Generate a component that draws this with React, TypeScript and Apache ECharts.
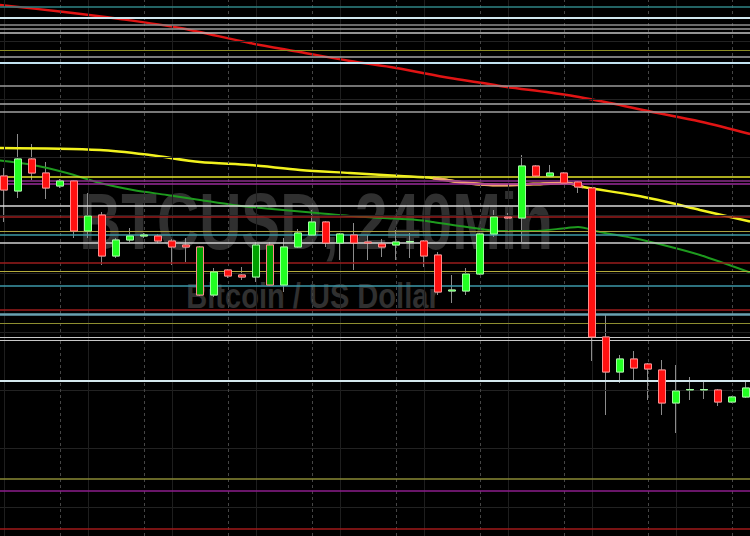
import React, { useEffect, useRef } from "react";
import * as echarts from "echarts";

// 4-hour bars
const categories = [
  "03-06 08:00", "03-06 12:00", "03-06 16:00", "03-06 20:00", "03-07 00:00", "03-07 04:00",
  "03-07 08:00", "03-07 12:00", "03-07 16:00", "03-07 20:00", "03-08 00:00", "03-08 04:00",
  "03-08 08:00", "03-08 12:00", "03-08 16:00", "03-08 20:00", "03-09 00:00", "03-09 04:00",
  "03-09 08:00", "03-09 12:00", "03-09 16:00", "03-09 20:00", "03-10 00:00", "03-10 04:00",
  "03-10 08:00", "03-10 12:00", "03-10 16:00", "03-10 20:00", "03-11 00:00", "03-11 04:00",
  "03-11 08:00", "03-11 12:00", "03-11 16:00", "03-11 20:00", "03-12 00:00", "03-12 04:00",
  "03-12 08:00", "03-12 12:00", "03-12 16:00", "03-12 20:00", "03-13 00:00", "03-13 04:00",
  "03-13 08:00", "03-13 12:00", "03-13 16:00", "03-13 20:00", "03-14 00:00", "03-14 04:00",
  "03-14 08:00", "03-14 12:00", "03-14 16:00", "03-14 20:00", "03-15 00:00", "03-15 04:00",
];

// [open, close, low, high]
const ohlc: number[][] = [
  [9428, 9400, 9336, 9444], [9398, 9462, 9384, 9512], [9462, 9434, 9420, 9492], [9434, 9404, 9382, 9456],
  [9408, 9418, 9404, 9422], [9418, 9318, 9304, 9420], [9318, 9348, 9304, 9394], [9350, 9268, 9250, 9356],
  [9268, 9300, 9264, 9304], [9300, 9308, 9296, 9324], [9308, 9310, 9304, 9314], [9308, 9298, 9294, 9312],
  [9298, 9286, 9250, 9302], [9290, 9286, 9256, 9304], [9286, 9190, 9188, 9288], [9190, 9236, 9186, 9244],
  [9240, 9228, 9224, 9242], [9230, 9226, 9220, 9246], [9226, 9290, 9216, 9296], [9290, 9210, 9208, 9296],
  [9210, 9286, 9196, 9304], [9286, 9314, 9284, 9322], [9310, 9336, 9308, 9360], [9336, 9294, 9286, 9338],
  [9294, 9312, 9260, 9314], [9310, 9294, 9240, 9334], [9296, 9294, 9260, 9310], [9292, 9286, 9266, 9302],
  [9290, 9296, 9260, 9320], [9296, 9297, 9264, 9314], [9298, 9268, 9246, 9300], [9270, 9196, 9190, 9276],
  [9198, 9200, 9174, 9230], [9198, 9232, 9190, 9244], [9232, 9312, 9230, 9314], [9312, 9346, 9306, 9360],
  [9346, 9344, 9342, 9354], [9344, 9448, 9296, 9470], [9448, 9428, 9426, 9450], [9428, 9434, 9426, 9450],
  [9434, 9414, 9412, 9436], [9416, 9406, 9394, 9418], [9404, 9106, 9058, 9406], [9106, 9036, 8950, 9150],
  [9036, 9062, 9014, 9070], [9062, 9044, 9020, 9078], [9052, 9042, 8980, 9054], [9040, 8974, 8950, 9060],
  [8974, 8998, 8914, 9050], [9000, 9001, 8980, 9026], [9000, 9001, 8982, 9016], [9000, 8976, 8968, 9002],
  [8976, 8986, 8974, 8988], [8986, 9004, 8984, 9016],
];

// moving averages: [bar position, price]
const maSlow = [
  [-0.29, 9770], [4, 9757], [8.29, 9742], [12.57, 9724], [17.57, 9694], [21.14, 9676], [24.71, 9658],
  [28, 9644], [31.86, 9624], [34.21, 9614], [35.43, 9608], [40.21, 9590], [43.29, 9574], [46.14, 9557],
  [49.71, 9537], [53.29, 9512],
];
const maMid = [
  [-0.29, 9484], [6.86, 9480], [10.43, 9470], [14, 9456], [17.57, 9450], [21.14, 9440], [24.71, 9434],
  [28.29, 9428], [30.64, 9424], [33.07, 9414], [35.43, 9410], [37.79, 9412], [40.21, 9414], [41.36, 9406],
  [44.93, 9390], [47.36, 9376], [49.71, 9360], [53.29, 9337],
];
const maFast = [
  [-0.29, 9459], [2.07, 9450], [4.5, 9434], [6.86, 9414], [9.21, 9400], [11.64, 9390], [14, 9380],
  [16.36, 9370], [17.57, 9366], [19.93, 9360], [22.36, 9354], [24.71, 9348], [27.07, 9344], [29.5, 9340],
  [30.64, 9336], [33.07, 9326], [35.43, 9318], [37.79, 9318], [40.21, 9324], [41, 9326], [42.57, 9316],
  [44.93, 9304], [47.36, 9288], [49.71, 9270], [53.29, 9235],
];
const maMidTintFrom = 30.6;
const maMidTintTo = 41.4;

// horizontal levels
const levelPrices = [
  9766, 9744, 9730, 9722, 9714, 9680, 9666, 9654, 9608, 9572, 9556, 9426, 9418, 9412, 9368, 9346,
  9318, 9310, 9294, 9254, 9238, 9208, 9160, 9152, 9134, 9106, 9100, 9018, 8822, 8798, 8722,
];
const gridPrices = [9698, 9582, 9466, 9350, 9234, 9116, 9000, 8884, 8766];
const priceMin = 8708;
const priceMax = 9780;

const watermarkTitle = "BTCUSD, 240Min";
const watermarkSubtitle = "Bitcoin / US Dollar";

// styles
const levelColors = [
  "#2f8486", "#cfe6ee", "#8e8e8e", "#9a9a9a", "#c4c4c4", "#8d8d24", "#a6a6a6", "#c2e2f0",
  "#9a9a9a", "#a8a8a8", "#a0a0a0", "#e6e62a", "#8a2f8a", "#9b2b9b", "#d8d8d8", "#9a1c1c",
  "#a8a040", "#3c9aa4", "#d0d0d0", "#9a1c1c", "#b4ac3c", "#3c98a8", "#9a1c1c", "#6aa2b2",
  "#8e8e30", "#c8c8c8", "#c8c8c8", "#d4e8ee", "#8a8a34", "#8c1e8c", "#a01a1a",
];
const levelWidths = [
  1.5, 2, 1.5, 1.5, 1.5, 1, 1.5, 2, 1.5, 1.5, 1.5, 1.5, 1.5, 1.5, 1.5, 1.5,
  1, 1.5, 1.5, 1.5, 1, 1.5, 1.5, 2.5, 1, 1, 1, 2, 1.5, 1.5, 1.5,
];
const darkBars = [14, 18, 19];

export default function App() {
  const ref = useRef<HTMLDivElement>(null);

  useEffect(() => {
    if (!ref.current) return;
    const chart = echarts.init(ref.current, undefined, { renderer: "svg" });

    const bodies = ohlc.map((d, i) => {
      const item: any = { value: [d[0], d[1], Math.min(d[0], d[1]), Math.max(d[0], d[1])] };
      if (darkBars.includes(i)) {
        item.itemStyle = { color: "#00a000", color0: "#b80000" };
      }
      return item;
    });

    const hLines = levelPrices.map((p, i) => ({
      yAxis: p,
      lineStyle: { color: levelColors[i], width: levelWidths[i], type: "solid" },
    }));
    const gLines = gridPrices.map((p) => ({
      yAxis: p,
      lineStyle: { color: "#222222", width: 1, type: "solid" },
    }));
    const vBright = categories
      .filter((c) => c.endsWith("00:00"))
      .map((c) => ({ xAxis: c, lineStyle: { color: "#454545", width: 1, type: [3, 3] } }));
    const vDim = categories
      .filter((c) => c.endsWith("08:00"))
      .map((c) => ({ xAxis: c, lineStyle: { color: "#1e1e1e", width: 1, type: "solid" } }));

    const tinted = maMid.filter((p) => p[0] >= maMidTintFrom && p[0] <= maMidTintTo);

    const n = categories.length;

    chart.setOption({
      animation: false,
      backgroundColor: "#000000",
      grid: { left: 0, right: 0, top: 0, bottom: 0, containLabel: false },
      xAxis: [
        { type: "category", data: categories, show: false, boundaryGap: true },
        { type: "value", min: -0.5, max: n - 0.5, show: false },
      ],
      yAxis: { type: "value", min: priceMin, max: priceMax, show: false, splitLine: { show: false } },
      graphic: [
        {
          type: "text",
          x: 319,
          y: 222,
          scaleX: 0.73,
          z: 0,
          silent: true,
          style: {
            text: watermarkTitle,
            fill: "#303030",
            fontSize: 80,
            fontWeight: "bold",
            fontFamily: "Liberation Sans, Arial, sans-serif",
            textAlign: "center",
            textVerticalAlign: "middle",
          },
        },
        {
          type: "text",
          x: 316,
          y: 296,
          scaleX: 0.83,
          z: 0,
          silent: true,
          style: {
            text: watermarkSubtitle,
            fill: "#303030",
            fontSize: 35,
            fontWeight: "bold",
            fontFamily: "Liberation Sans, Arial, sans-serif",
            textAlign: "center",
            textVerticalAlign: "middle",
          },
        },
      ],
      series: [
        {
          type: "line",
          xAxisIndex: 0,
          data: [],
          z: 1,
          silent: true,
          markLine: {
            silent: true,
            symbol: "none",
            label: { show: false },
            animation: false,
            data: [...gLines, ...vDim, ...vBright, ...hLines],
          },
        },
        {
          type: "candlestick",
          xAxisIndex: 0,
          barWidth: 8,
          z: 3,
          data: ohlc,
          itemStyle: {
            color: "transparent",
            color0: "transparent",
            borderColor: "#8c8c8c",
            borderColor0: "#8c8c8c",
            borderWidth: 1,
          },
        },
        {
          type: "line",
          xAxisIndex: 1,
          data: maSlow,
          showSymbol: false,
          smooth: 0.3,
          z: 4,
          lineStyle: { color: "#e01414", width: 2.5 },
        },
        {
          type: "line",
          xAxisIndex: 1,
          data: maFast,
          showSymbol: false,
          smooth: 0.3,
          z: 4,
          lineStyle: { color: "#1e9a1e", width: 2 },
        },
        {
          type: "line",
          xAxisIndex: 1,
          data: maMid,
          showSymbol: false,
          smooth: 0.3,
          z: 4,
          lineStyle: { color: "#f2f21e", width: 2.5 },
        },
        {
          type: "line",
          xAxisIndex: 1,
          data: tinted,
          showSymbol: false,
          smooth: 0.3,
          z: 4,
          lineStyle: { color: "#f0a272", width: 3 },
        },
        {
          type: "candlestick",
          xAxisIndex: 0,
          barWidth: 8,
          z: 5,
          data: bodies,
          itemStyle: {
            color: "#22ff22",
            color0: "#ff1010",
            borderColor: "#a0ffa0",
            borderColor0: "#ff8c8c",
            borderWidth: 1,
          },
        },
      ],
    });

    return () => chart.dispose();
  }, []);

  return (
    <div
      ref={ref}
      style={{ position: "fixed", left: -3, top: 0, width: 756, height: 536 }}
    />
  );
}
